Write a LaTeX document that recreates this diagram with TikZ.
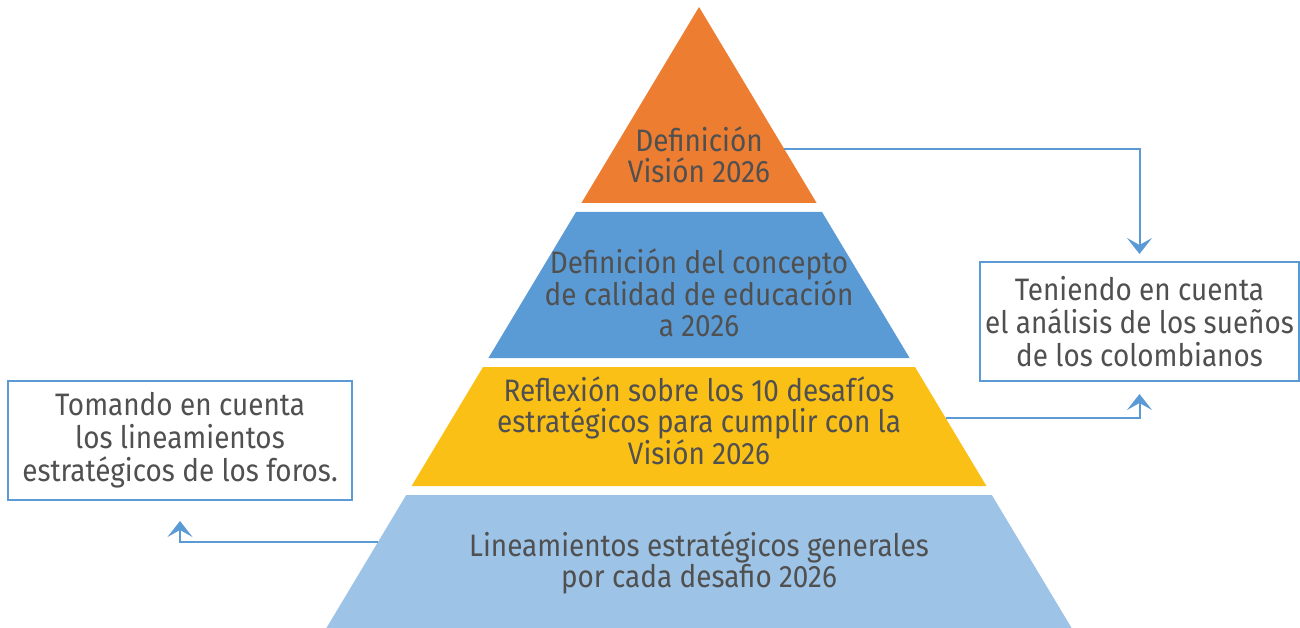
\documentclass[tikz,border=0pt]{standalone}
\usepackage{fontspec}
\setmainfont[FakeStretch=0.9]{Fira Sans}
\usetikzlibrary{arrows.meta}
\definecolor{cOrange}{HTML}{ED7D31}
\definecolor{cBlue}{HTML}{5B9BD5}
\definecolor{cYellow}{HTML}{FBC016}
\definecolor{cLight}{HTML}{9DC3E6}
\definecolor{cLine}{HTML}{5B9BD5}
\definecolor{cText}{HTML}{505050}
\tikzset{
  bandtext/.style={align=center, text=cText, font=\fontsize{31}{31}\selectfont, inner sep=0pt},
  infobox/.style={draw=cLine, line width=2pt, fill=white, align=center, text=cText,
    font=\fontsize{31}{33}\selectfont, inner sep=0pt, minimum height=119pt},
  conn/.style={draw=cLine, line width=2pt,
    -{Stealth[length=16pt, width=25pt, inset=7pt]}},
}
\begin{document}
\begin{tikzpicture}[x=1pt, y=-1pt]
\useasboundingbox (0,0) rectangle (1300,628);
% pyramid bands
\fill[cOrange] (699,7) -- (816.6,203) -- (581.4,203) -- cycle;
\fill[cBlue] (576,212) -- (822,212) -- (909.6,358) -- (488.4,358) -- cycle;
\fill[cYellow] (483,367) -- (915,367) -- (986.4,486) -- (411.6,486) -- cycle;
\fill[cLight] (406.2,495) -- (991.8,495) -- (1071.6,628) -- (326.4,628) -- cycle;
% band texts
\node[bandtext] (t1) at (699,155) {Definición\\Visión 2026};
\node[bandtext] (t2) at (699,293) {Definición del concepto\\de calidad de educación\\a 2026};
\node[bandtext] (t3) at (699,421) {Reflexión sobre los 10 desafíos\\estratégicos para cumplir con la\\Visión 2026};
\node[bandtext] (t4) at (699,563) {Lineamientos estratégicos generales\\por cada desafio 2026};
% side boxes
\node[infobox, minimum width=319pt] (rbox) at (1139.5,321.5) {Teniendo en cuenta\\el análisis de los sueños\\de los colombianos};
\node[infobox, minimum width=344pt] (lbox) at (180,440.5) {Tomando en cuenta\\los lineamientos\\estratégicos de los foros.};
% connector anchors on the pyramid edges
\coordinate (eo) at (784,149);
\coordinate (ey) at (946,418);
\coordinate (el) at (378,542);
\draw[conn, shorten >=7pt] (eo) -| (rbox.north);
\draw[conn, shorten >=12pt] (ey) -| (rbox.south);
\draw[conn, shorten >=20pt] (el) -| (lbox.south);
\end{tikzpicture}
\end{document}
